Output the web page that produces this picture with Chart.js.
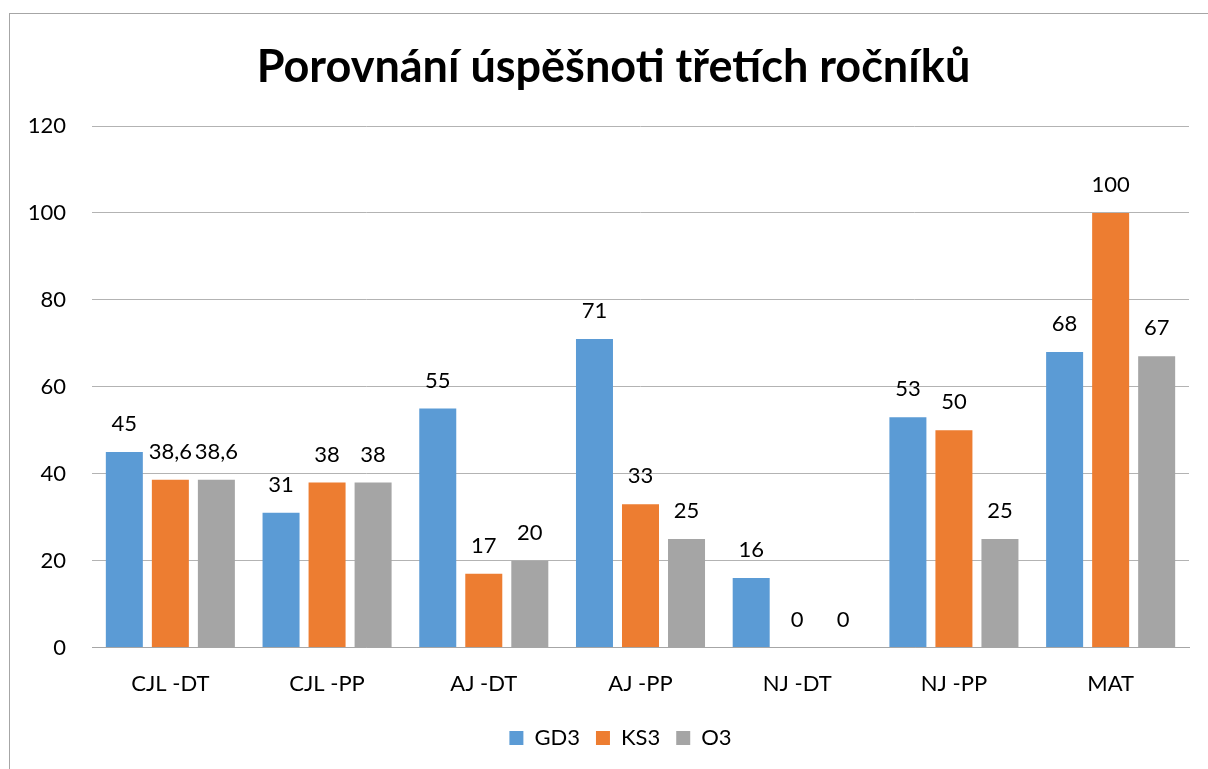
<!DOCTYPE html>
<html>
<head>
<meta charset="utf-8">
<script src="https://cdn.jsdelivr.net/npm/chart.js@4/dist/chart.umd.min.js"></script>
<style>
html,body{margin:0;padding:0;background:#fff;overflow:hidden;}
#frame{position:absolute;left:9px;top:13px;width:1400px;height:1000px;border-left:1px solid #A6A6A6;border-top:1px solid #A6A6A6;}
#wrap{position:absolute;left:0;top:0;width:1208px;height:769px;}
</style>
</head>
<body>
<div id="frame"></div>
<div id="wrap"><canvas id="c" width="1208" height="769"></canvas></div>
<script>
const categories = ["CJL -DT", "CJL -PP", "AJ -DT", "AJ -PP", "NJ -DT", "NJ -PP", "MAT"];
const gd3 = [45, 31, 55, 71, 16, 53, 68];
const ks3 = [38.6, 38, 17, 33, 0, 50, 100];
const o3 = [38.6, 38, 20, 25, 0, 25, 67];
const seriesNames = ["GD3", "KS3", "O3"];
const yTicks = [0, 20, 40, 60, 80, 100, 120];
const titleText = "Porovnání úspěšnoti třetích ročníků";

const FONT = "Lato, 'Open Sans', sans-serif";

const labelPlugin = {
  id: 'barLabels',
  afterDatasetsDraw(chart) {
    const ctx = chart.ctx;
    ctx.save();
    ctx.font = "22px " + FONT;
    ctx.fillStyle = "#000";
    ctx.textAlign = "center";
    ctx.textBaseline = "middle";
    chart.data.datasets.forEach((ds, i) => {
      const meta = chart.getDatasetMeta(i);
      meta.data.forEach((bar, j) => {
        const v = ds.data[j];
        ctx.fillText(String(v).replace('.', ','), bar.x, bar.y - 28);
      });
    });
    ctx.restore();
  }
};

const shiftPlugin = {
  id: 'shiftBoxes',
  afterLayout(chart) {
    if (chart.legend) { chart.legend.left += 26; chart.legend.right += 26; }
    if (chart.titleBlock) { chart.titleBlock.left += 19; chart.titleBlock.right += 19; }
  }
};

new Chart(document.getElementById('c'), {
  type: 'bar',
  data: {
    labels: categories,
    datasets: [
      { label: seriesNames[0], data: gd3, backgroundColor: '#5B9BD5' },
      { label: seriesNames[1], data: ks3, backgroundColor: '#ED7D31' },
      { label: seriesNames[2], data: o3, backgroundColor: '#A5A5A5' }
    ]
  },
  options: {
    responsive: false,
    animation: false,
    devicePixelRatio: 1,
    layout: { padding: { left: 0, right: 19, top: 0, bottom: 10 } },
    datasets: { bar: { categoryPercentage: 0.881, barPercentage: 0.804 } },
    plugins: {
      title: {
        display: true,
        text: titleText,
        color: '#000',
        font: { family: FONT, size: 45, weight: 'bold', lineHeight: 1.2 },
        padding: { top: 40, bottom: 32 }
      },
      legend: {
        position: 'bottom',
        labels: {
          color: '#000',
          font: { family: FONT, size: 22 },
          boxWidth: 14, boxHeight: 14,
          padding: 16
        }
      },
      tooltip: { enabled: false }
    },
    scales: {
      x: {
        afterFit(scale) { scale.height -= 9; },
        grid: { display: false, drawTicks: false },
        border: { display: true, color: '#A6A6A6', width: 1 },
        ticks: { color: '#000', font: { family: FONT, size: 22 }, padding: 23 }
      },
      y: {
        min: 0, max: 120,
        afterFit(scale) { scale.width = 92; },
        afterBuildTicks(scale) { scale.ticks = yTicks.map(v => ({ value: v })); },
        grid: { color: '#B3B3B3', drawTicks: false },
        border: { display: false },
        ticks: { color: '#000', font: { family: FONT, size: 22 }, padding: 26 }
      }
    }
  },
  plugins: [labelPlugin, shiftPlugin]
});
</script>
</body>
</html>
